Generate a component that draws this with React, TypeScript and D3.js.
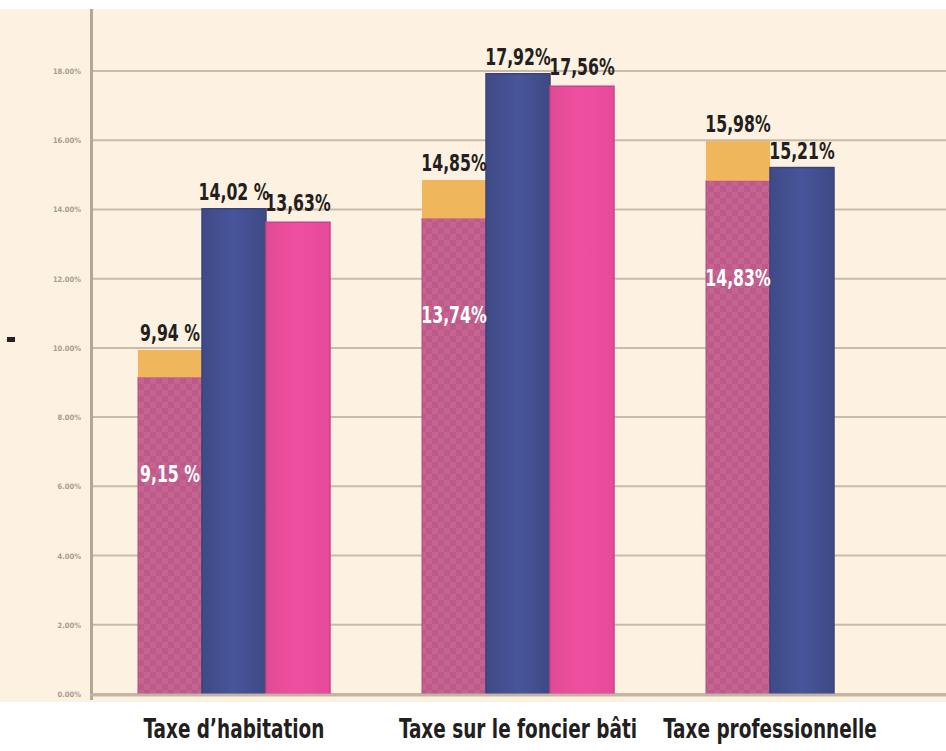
import React from "react";
import * as d3 from "d3";

const categories = ["Taxe d’habitation", "Taxe sur le foncier bâti", "Taxe professionnelle"];
const baseValues = [9.15, 13.74, 14.83];
const capValues = [9.94, 14.85, 15.98];
const blueValues = [14.02, 17.92, 15.21];
const pinkValues: (number | null)[] = [13.63, 17.56, null];
const baseLabels = ["9,15 %", "13,74%", "14,83%"];
const capLabels = ["9,94 %", "14,85%", "15,98%"];
const blueLabels = ["14,02 %", "17,92%", "15,21%"];
const pinkLabels = ["13,63%", "17,56%", ""];
const yTicks = [0, 2, 4, 6, 8, 10, 12, 14, 16, 18];
const seriesKeys = ["base", "blue", "pink"];

const W = 946;
const H = 751;
const FONT = "'DejaVu Sans Condensed', 'Liberation Sans Narrow', sans-serif";
const SX = 0.76;

function Label(props: { x: number; y: number; size: number; fill: string; children: string }) {
  return (
    <text
      transform={`translate(${props.x},${props.y}) scale(${SX},1)`}
      textAnchor="middle"
      fontSize={props.size}
      fontWeight="bold"
      fontFamily={FONT}
      fill={props.fill}
    >
      {props.children}
    </text>
  );
}

export default function App() {
  const x0 = d3
    .scaleBand<string>()
    .domain(categories)
    .range([92, 944])
    .paddingInner(0.324)
    .paddingOuter(0.162);
  const x1 = d3.scaleBand<string>().domain(seriesKeys).range([0, x0.bandwidth()]);
  const y = d3.scaleLinear().domain([0, 18]).range([694, 71]);
  const plotTop = 9;
  const plotBottom = 702;

  const fmt = (v: number) => d3.format(".2f")(v) + "%";

  return (
    <svg
      width={W}
      height={H}
      style={{ position: "fixed", left: 0, top: 0, background: "#ffffff" }}
    >
      <defs>
        <pattern id="checker" width="12" height="12" patternUnits="userSpaceOnUse">
          <rect width="12" height="12" fill="#BE5A8B" />
          <rect width="6" height="6" fill="#C5648F" />
          <rect x="6" y="6" width="6" height="6" fill="#C5648F" />
        </pattern>
        <linearGradient id="blueGrad" x1="0" x2="1" y1="0" y2="0">
          <stop offset="0" stopColor="#3F4A86" />
          <stop offset="0.5" stopColor="#47559A" />
          <stop offset="1" stopColor="#3E4985" />
        </linearGradient>
        <linearGradient id="pinkGrad" x1="0" x2="1" y1="0" y2="0">
          <stop offset="0" stopColor="#E24A95" />
          <stop offset="0.5" stopColor="#F04FA0" />
          <stop offset="1" stopColor="#E64A98" />
        </linearGradient>
      </defs>
      <rect x={0} y={plotTop} width={W} height={plotBottom - plotTop} fill="#FDF1E1" />

      {yTicks.map((t) => (
        <line
          key={"g" + t}
          x1={92}
          x2={W}
          y1={y(t)}
          y2={y(t)}
          stroke="#C8BBA9"
          strokeWidth={2}
        />
      ))}
      {yTicks.map((t) => (
        <text
          key={"t" + t}
          x={81}
          y={y(t) + 3}
          textAnchor="end"
          fontSize={7.5}
          fontWeight="bold"
          fontFamily={FONT}
          fill="#A89C92"
        >
          {fmt(t)}
        </text>
      ))}
      <rect x={7} y={337} width={8} height={5} fill="#2a1f1a" />

      {categories.map((c, i) => {
        const gx = x0(c)!;
        const bw = x1.bandwidth();
        const bx = gx + x1("base")!;
        const blx = gx + x1("blue")!;
        const px = gx + x1("pink")!;
        const pink = pinkValues[i];
        return (
          <g key={c}>
            <rect
              x={bx}
              y={y(baseValues[i])}
              width={bw}
              height={y(0) - y(baseValues[i])}
              fill="url(#checker)"
              stroke="#B4527F"
              strokeWidth={1}
            />
            <rect
              x={bx}
              y={y(capValues[i])}
              width={bw}
              height={y(baseValues[i]) - y(capValues[i])}
              fill="#F0B65B"
            />
            <rect
              x={blx}
              y={y(blueValues[i])}
              width={bw}
              height={y(0) - y(blueValues[i])}
              fill="url(#blueGrad)"
              stroke="#39437A"
              strokeWidth={1.5}
            />
            {pink !== null && (
              <rect
                x={px}
                y={y(pink)}
                width={bw}
                height={y(0) - y(pink)}
                fill="url(#pinkGrad)"
                stroke="#C9428A"
                strokeWidth={1.5}
              />
            )}
            <Label x={bx + bw / 2} y={y(capValues[i]) - 9} size={23} fill="#231F20">
              {capLabels[i]}
            </Label>
            <Label x={bx + bw / 2} y={y(baseValues[i]) + 105} size={23} fill="#FFFFFF">
              {baseLabels[i]}
            </Label>
            <Label x={blx + bw / 2} y={y(blueValues[i]) - 9} size={23} fill="#231F20">
              {blueLabels[i]}
            </Label>
            {pink !== null && (
              <Label x={px + bw / 2} y={y(pink) - 11} size={23} fill="#231F20">
                {pinkLabels[i]}
              </Label>
            )}
            <Label
              x={pink !== null ? gx + x0.bandwidth() / 2 : gx + bw}
              y={738}
              size={27}
              fill="#231F20"
            >
              {c}
            </Label>
          </g>
        );
      })}

      <line x1={91.5} x2={91.5} y1={plotTop} y2={plotBottom - 2} stroke="#B3A697" strokeWidth={3} />
      <line x1={90} x2={W} y1={695} y2={695} stroke="#C2B5A5" strokeWidth={3} />
    </svg>
  );
}
